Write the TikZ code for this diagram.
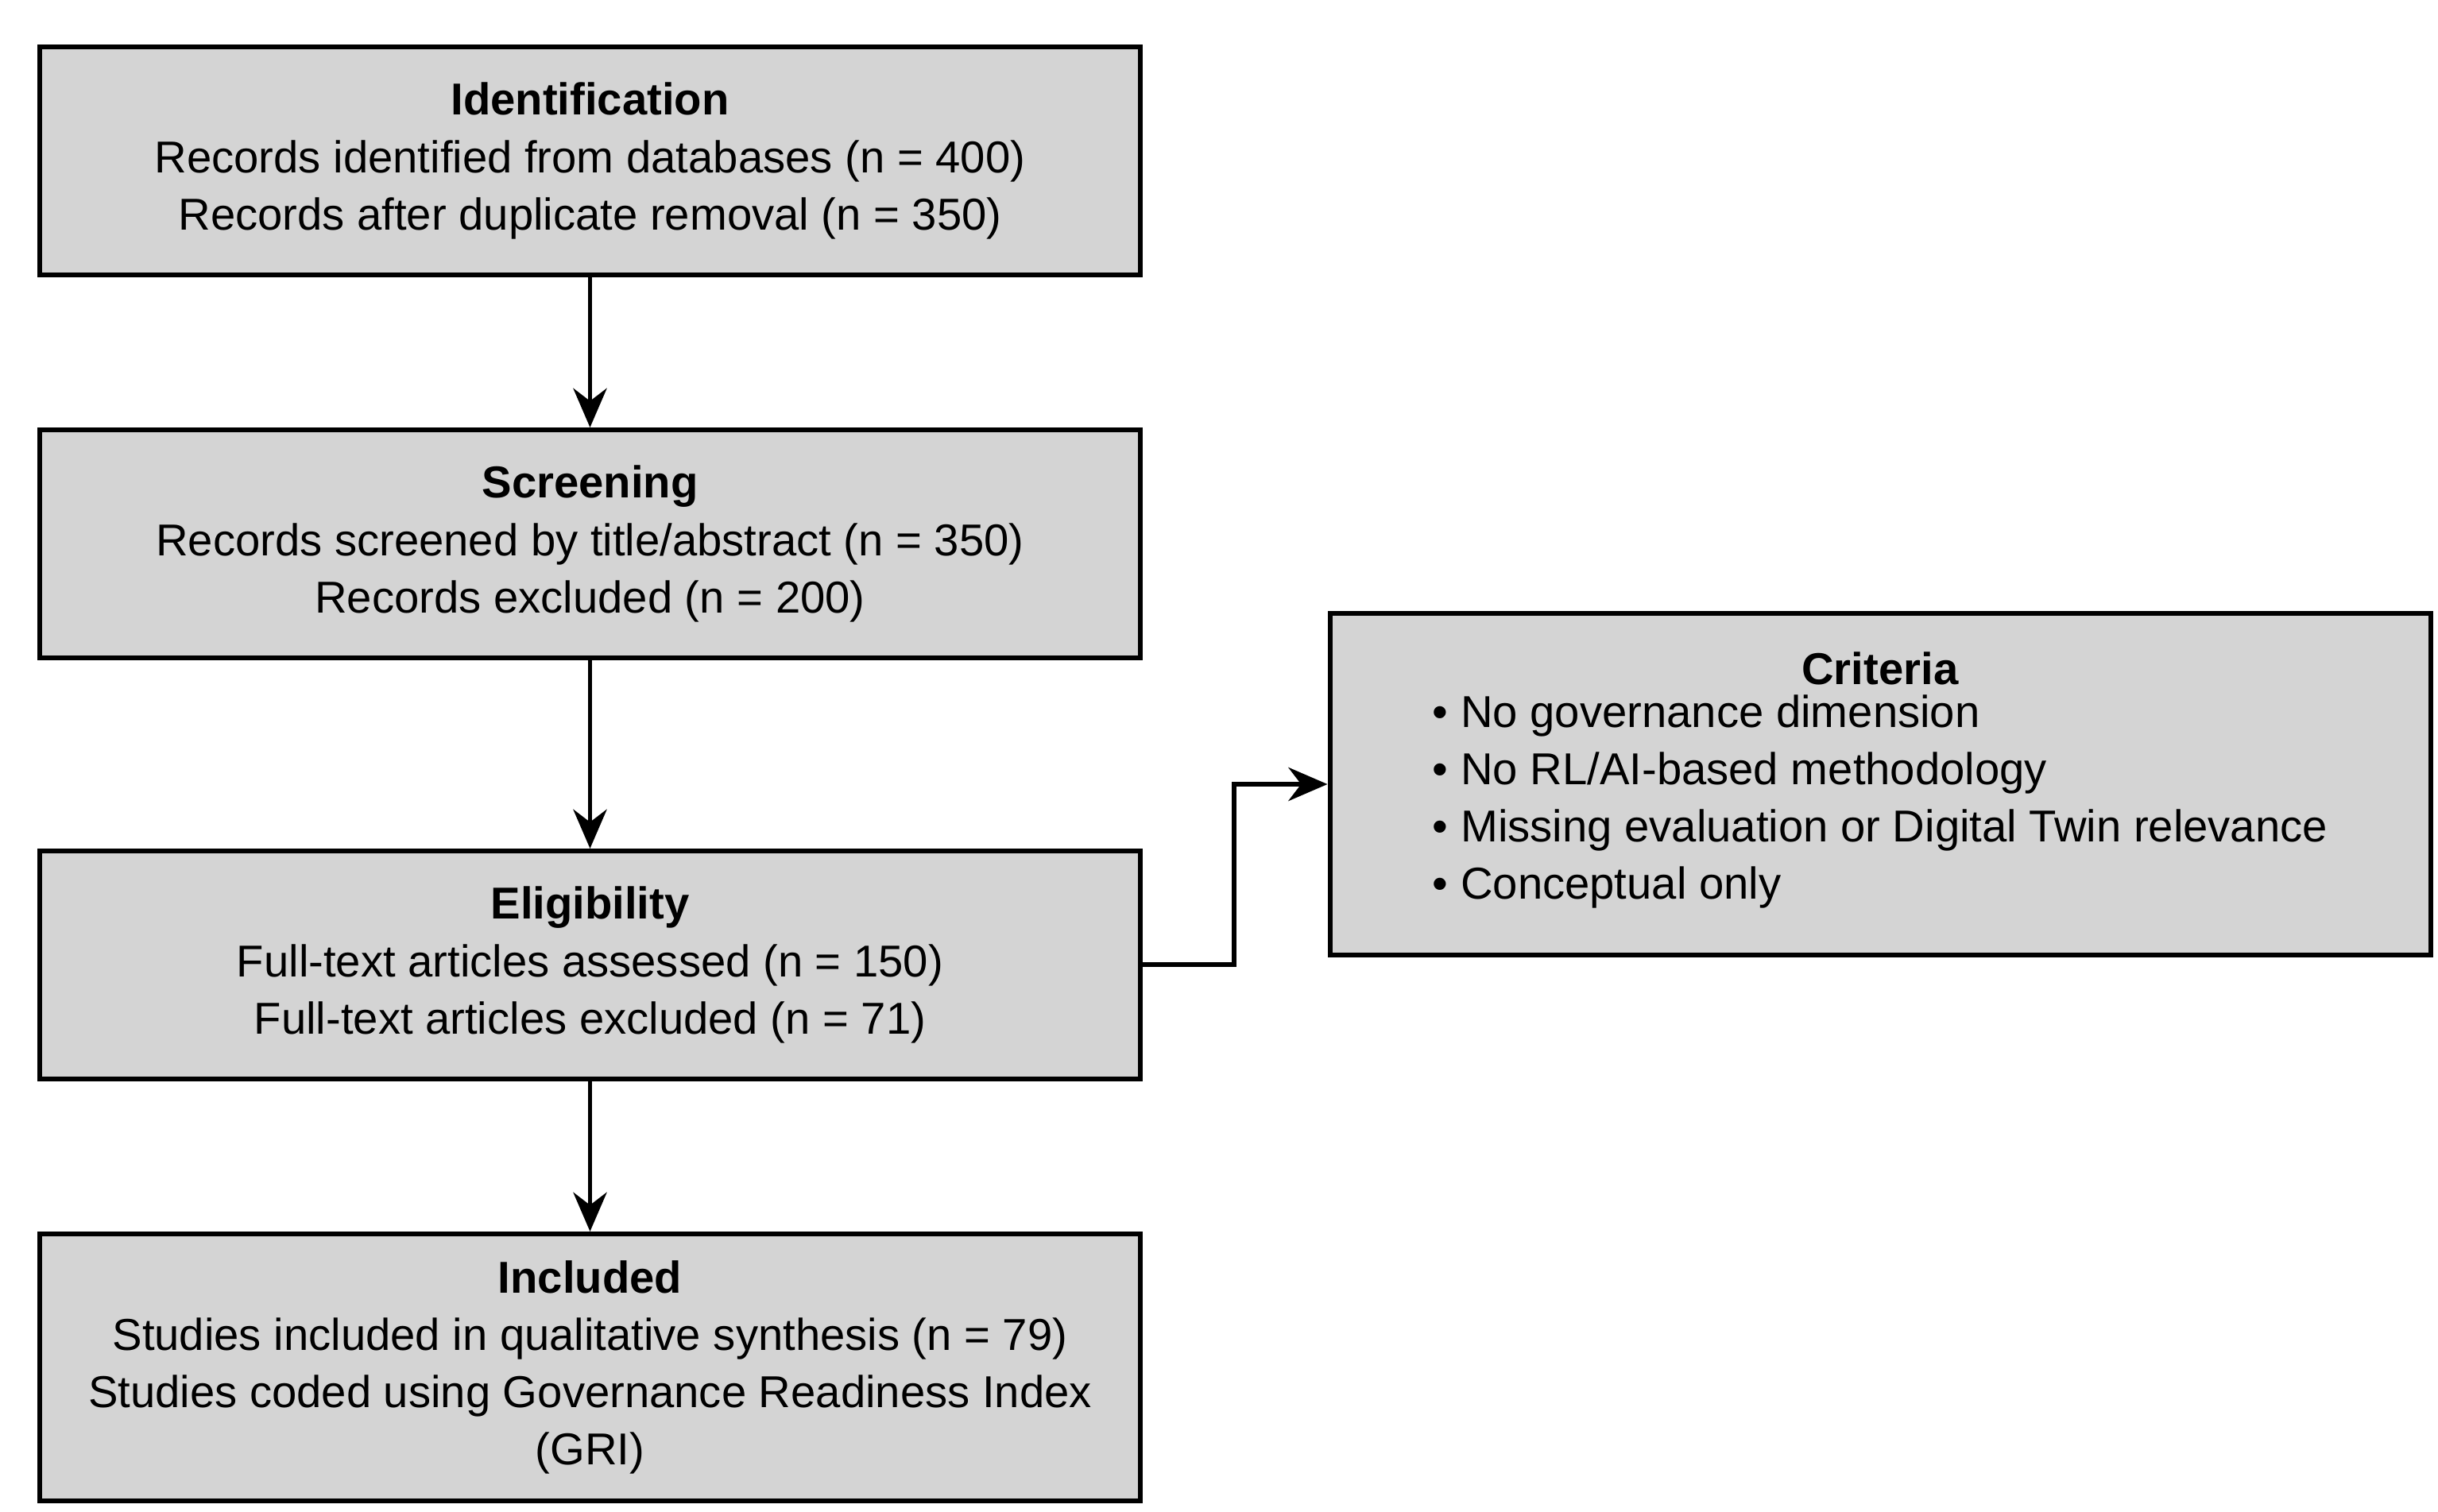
\documentclass[tikz,border=0pt]{standalone}
\usepackage{fontspec}
\setmainfont{Liberation Sans}
\usetikzlibrary{positioning,arrows.meta}
\begin{document}
\begin{tikzpicture}
\tikzset{
  stage/.style={draw, line width=1.7pt, fill=black!17, minimum width=13.85cm,
    minimum height=2.87cm, align=center, font=\fontsize{16}{20.5}\selectfont},
  flow/.style={line width=1.7pt, -{Stealth[length=14pt,width=12pt]}}
}
\useasboundingbox (0,0) rectangle (30.68,-19.03);
% main column
\node[stage] (ident) at (7.425,-2.025)
  {\textbf{Identification}\\Records identified from databases (n = 400)\\Records after duplicate removal (n = 350)};
\node[stage, below=1.89cm of ident] (screen)
  {\textbf{Screening}\\Records screened by title/abstract (n = 350)\\Records excluded (n = 200)};
\node[stage, below=2.37cm of screen] (elig)
  {\textbf{Eligibility}\\Full-text articles assessed (n = 150)\\Full-text articles excluded (n = 71)};
\node[stage, below=1.89cm of elig, minimum height=3.36cm] (incl)
  {\textbf{Included}\\Studies included in qualitative synthesis (n = 79)\\Studies coded using Governance Readiness Index\\(GRI)};
% side box
\node[stage, minimum height=4.3cm] (crit) at (23.66,-9.87)
  {\textbf{Criteria}\\\begin{tabular}{@{}l@{}}
  • No governance dimension\\
  • No RL/AI-based methodology\\
  • Missing evaluation or Digital Twin relevance\\
  • Conceptual only\end{tabular}};
\draw[flow] (ident) -- (screen);
\draw[flow] (screen) -- (elig);
\draw[flow] (elig) -- (incl);
\draw[flow] (elig.east) -- ++(1.15,0) |- (crit.west);
\end{tikzpicture}
\end{document}
